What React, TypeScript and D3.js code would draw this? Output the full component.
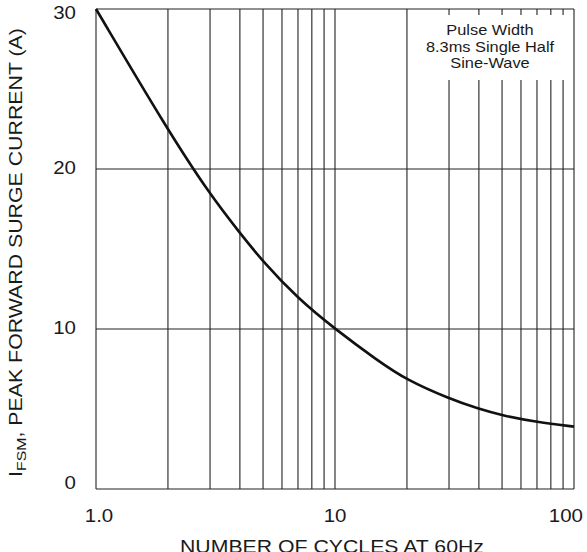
import * as d3 from 'd3';
import React, { useEffect, useRef } from 'react';

// values
const cycles = [1, 2, 3, 4, 5, 7, 10, 15, 20, 30, 40, 50, 70, 100];
const surgeCurrent = [30, 22.4, 18.4, 16.0, 14.2, 11.9, 10.0, 8.05, 6.8, 5.65, 5.0, 4.6, 4.18, 3.9];

const xTicks = [1, 10, 100];
const xTickLabels = ['1.0', '10', '100'];
const yTicks = [0, 10, 20, 30];
const noteLines = ['Pulse Width', '8.3ms Single Half', 'Sine-Wave'];

const FONT = "Arial, 'Liberation Sans', sans-serif";
const STRETCH = 1.17; // reference lettering is set wide

const App: React.FC = () => {
    const ref = useRef<SVGSVGElement | null>(null);
    const width = 587;
    const height = 552;

    useEffect(() => {
        const svg = d3.select(ref.current);
        svg.selectAll('*').remove();

        const x = d3.scaleLog().domain([1, 100]).range([96, 574]);
        const y = d3.scaleLinear().domain([0, 30]).range([489, 9]);

        svg.append('rect').attr('width', width).attr('height', height).attr('fill', '#fff');

        // helper: text anchored at (px, py), stretched horizontally
        const label = (
            parent: d3.Selection<any, any, any, any>,
            px: number,
            py: number,
            txt: string,
            size: number,
            anchor: string
        ) =>
            parent
                .append('g')
                .attr('transform', `translate(${px}, ${py}) scale(${STRETCH}, 1)`)
                .append('text')
                .attr('text-anchor', anchor)
                .style('font-family', FONT)
                .style('font-size', `${size}px`)
                .attr('fill', '#1a1a1a')
                .text(txt);

        // minor + major vertical grid (log decades)
        const vLines: number[] = [];
        for (let dec = 1; dec < 100; dec *= 10) {
            for (let k = 1; k <= 10; k++) vLines.push(dec * k);
        }
        const grid = svg.append('g').attr('stroke', '#222').attr('stroke-width', 1.1);
        grid.selectAll('line.v')
            .data(Array.from(new Set(vLines)))
            .join('line')
            .attr('class', 'v')
            .attr('x1', (d) => x(d))
            .attr('x2', (d) => x(d))
            .attr('y1', y(30))
            .attr('y2', y(0));
        grid.selectAll('line.h')
            .data(yTicks)
            .join('line')
            .attr('class', 'h')
            .attr('x1', x(1))
            .attr('x2', x(100))
            .attr('y1', (d) => y(d))
            .attr('y2', (d) => y(d));

        // note box covers the grid
        svg.append('rect')
            .attr('x', 415)
            .attr('y', 15)
            .attr('width', 157)
            .attr('height', 65)
            .attr('fill', '#fff');
        noteLines.forEach((t, i) => label(svg, 490, 35 + i * 16.5, t, 14, 'middle'));

        // curve (B-spline smooths the hand-read points)
        const line = d3
            .line<number>()
            .x((d) => x(d))
            .y((_, i) => y(surgeCurrent[i]))
            .curve(d3.curveBasis);
        svg.append('path')
            .datum(cycles)
            .attr('d', line)
            .attr('fill', 'none')
            .attr('stroke', '#111')
            .attr('stroke-width', 2.6);

        // tick labels
        yTicks.forEach((d) =>
            label(svg, 76, y(d) + (d === 30 ? 10 : d === 0 ? 0 : 5), String(d), 17.5, 'end')
        );
        xTicks.forEach((d, i) =>
            label(svg, i === 2 ? 583 : x(d) + (i === 0 ? 3 : 0), 521.5, xTickLabels[i], 17.5, i === 2 ? 'end' : 'middle')
        );

        // axis titles, stretched to the reference lengths
        const xTitle = svg.append('text')
            .attr('text-anchor', 'middle')
            .style('font-family', FONT)
            .style('font-size', '17.5px')
            .attr('fill', '#1a1a1a')
            .text('NUMBER OF CYCLES AT 60Hz');
        const xLen = (xTitle.node() as SVGTextElement).getComputedTextLength();
        xTitle.attr('transform', `translate(332, 553) scale(${304 / xLen}, 1)`);

        const yTitle = svg.append('text')
            .attr('text-anchor', 'middle')
            .style('font-family', FONT)
            .style('font-size', '17.5px')
            .attr('fill', '#1a1a1a');
        yTitle.append('tspan').text('I');
        yTitle.append('tspan').attr('dy', 4).style('font-size', '13px').text('FSM');
        yTitle.append('tspan').attr('dy', -4).text(', PEAK FORWARD SURGE CURRENT (A)');
        const yLen = (yTitle.node() as SVGTextElement).getComputedTextLength();
        yTitle.attr('transform', `translate(21.5, 252.5) rotate(-90) scale(${449 / yLen}, 1)`);
    }, []);

    return (
        <svg
            ref={ref}
            width={width}
            height={height}
            style={{ position: 'absolute', left: 0, top: 0 }}
        />
    );
};

export default App;
